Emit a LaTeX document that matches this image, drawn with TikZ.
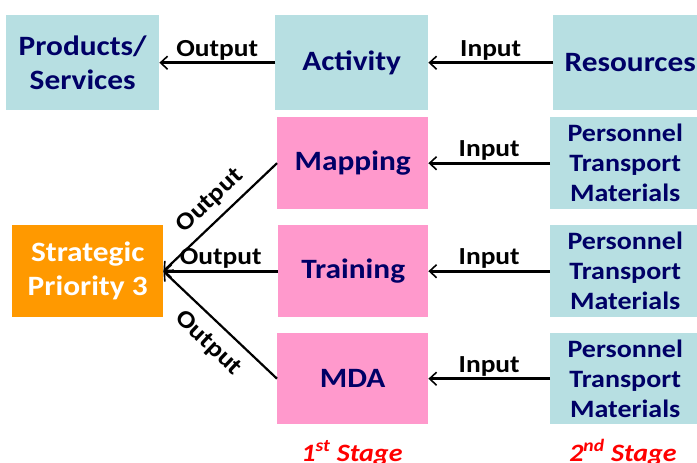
\documentclass[tikz,border=0pt]{standalone}
\usepackage{fontspec}
\setmainfont{Carlito}[FakeStretch=1.12]
\usetikzlibrary{arrows.meta}
\definecolor{boxteal}{HTML}{B7DFE2}
\definecolor{boxpink}{HTML}{FF99CC}
\definecolor{boxorange}{HTML}{FF9900}
\definecolor{navytext}{HTML}{000066}
\definecolor{stagered}{HTML}{FF0000}
\begin{document}
\begin{tikzpicture}[x=1pt,y=-1pt,
  blk/.style={fill=#1, draw=none, inner sep=0pt, anchor=north west,
    align=center, text=navytext, font=\bfseries\fontsize{28}{34}\selectfont},
  reslist/.style={font=\bfseries\fontsize{25}{30}\selectfont},
  arr/.style={line width=2.6pt, -{Straight Barb[length=7pt,width=13pt,line width=1.6pt]}},
  backarr/.style={line width=2.2pt, {Straight Barb[length=7pt,width=13pt,line width=1.6pt]}-},
  lbl/.style={font=\bfseries\fontsize{24.5}{26}\selectfont, inner sep=1.5pt, text=black},
  stagelbl/.style={font=\bfseries\itshape\fontsize{25}{26}\selectfont, text=stagered, anchor=base, inner sep=0pt}]
\useasboundingbox (0,0) rectangle (697,463);

% top row: products, activity, resources
\node[blk=boxteal, minimum width=153pt, minimum height=95pt] (prod) at (6,15) {Products/\\Services};
\node[blk=boxteal, minimum width=153pt, minimum height=95pt] (act) at (275,15) {Activity};
\node[blk=boxteal, minimum width=154pt, minimum height=95pt] (res) at (553,15) {Resources};

% first stage activities
\node[blk=boxpink, minimum width=151pt, minimum height=92pt] (map) at (277,117) {Mapping};
\node[blk=boxpink, minimum width=150pt, minimum height=92pt] (train) at (278,225) {Training};
\node[blk=boxpink, minimum width=151pt, minimum height=91pt] (mda) at (277,333) {MDA};

% strategic priority
\node[blk=boxorange, minimum width=151pt, minimum height=92pt, text=white] (strat) at (12,225) {Strategic\\Priority 3};

% second stage resources
\node[blk=boxteal, reslist, minimum width=150pt, minimum height=92pt] (pers1) at (550,117) {Personnel\\Transport\\Materials};
\node[blk=boxteal, reslist, minimum width=150pt, minimum height=92pt] (pers2) at (550,225) {Personnel\\Transport\\Materials};
\node[blk=boxteal, reslist, minimum width=150pt, minimum height=91pt] (pers3) at (550,333) {Personnel\\Transport\\Materials};

% connectors
\draw[arr] (act.west) -- node[lbl, above] {Output} (prod.east);
\draw[arr] (res.west) -- node[lbl, above] {Input} (act.east);
\draw[arr] (pers1.west) -- node[lbl, above] {Input} (map.east);
\draw[arr] (pers2.west) -- node[lbl, above] {Input} (train.east);
\draw[arr] (pers3.west) -- node[lbl, above] {Input} (mda.east);
\draw[arr] (train.west) -- node[lbl, above] {Output} (strat.east);
\draw[backarr] (strat.east) -- node[lbl, sloped, above=6pt, pos=0.525] {Output} (map.west);
\draw[backarr] (strat.east) -- node[lbl, sloped, below=9pt, pos=0.525] {Output} (mda.west);

% stage captions
\node[stagelbl] (st1) at (352,461) {1\textsuperscript{st} Stage};
\node[stagelbl] (st2) at (623,461) {2\textsuperscript{nd} Stage};
\end{tikzpicture}
\end{document}
